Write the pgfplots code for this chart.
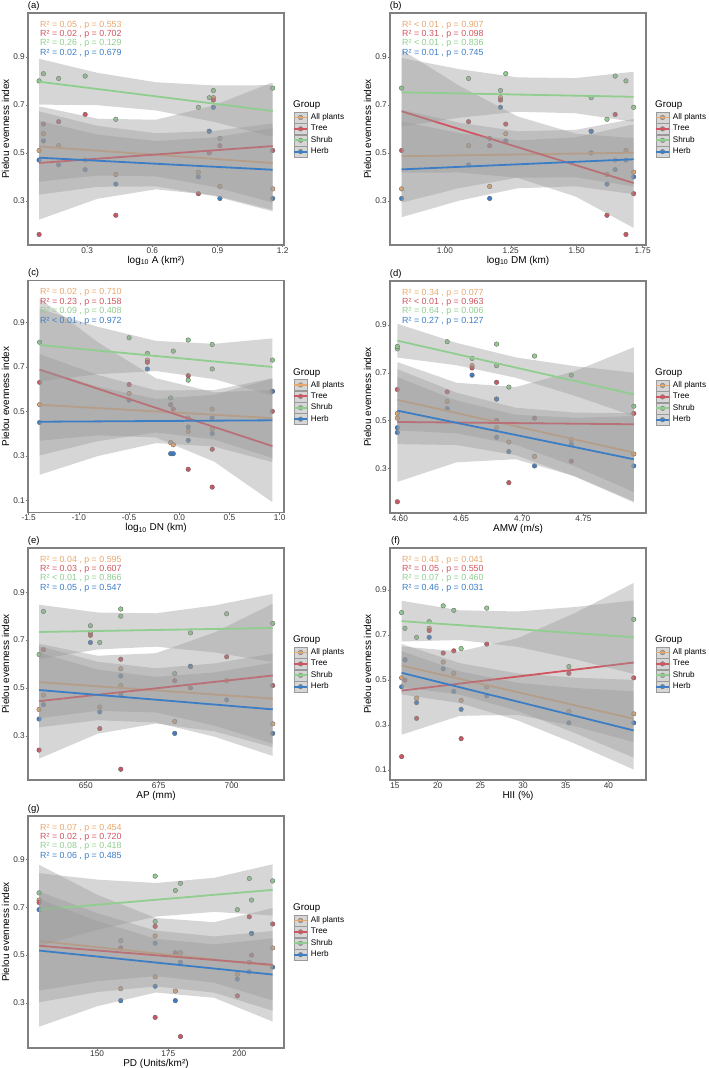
\documentclass[border=0pt]{standalone}
\usepackage{fontspec}
\setmainfont{Liberation Sans}
\usepackage{pgfplots}
\usepackage{pgfplotstable}
\pgfplotsset{compat=1.18}

\definecolor{cAll}{HTML}{E8A86E}
\definecolor{cTree}{HTML}{CF5660}
\definecolor{cShrub}{HTML}{8FCE8F}
\definecolor{cHerb}{HTML}{3C7EC6}
\definecolor{bandgray}{RGB}{153,153,153}

% ---------- points: one row per site (S1..S10) ----------
\pgfplotstableread{
x all tree shrub herb
0.079 0.51 0.16 0.80 0.47
0.099 0.58 0.62 0.83 0.55
0.169 0.53 0.63 0.81 0.45
0.291 0.47 0.66 0.82 0.43
0.432 0.41 0.24 0.64 0.37
0.812 0.42 0.33 0.69 0.40
0.862 0.59 0.50 0.73 0.59
0.881 0.73 0.72 0.76 0.69
0.911 0.36 0.53 0.56 0.31
1.154 0.35 0.51 0.77 0.31
}\ptA
\pgfplotstableread{
x all tree shrub herb
1.687 0.51 0.16 0.80 0.47
1.231 0.58 0.62 0.83 0.55
1.090 0.53 0.63 0.81 0.45
1.646 0.47 0.66 0.82 0.43
1.615 0.41 0.24 0.64 0.37
1.716 0.42 0.33 0.69 0.40
1.555 0.59 0.50 0.73 0.59
1.211 0.73 0.72 0.76 0.69
1.170 0.36 0.53 0.56 0.31
0.836 0.35 0.51 0.77 0.31
}\ptB
\pgfplotstableread{
x all tree shrub herb
0.328 0.51 0.16 0.80 0.47
-0.500 0.58 0.62 0.83 0.55
-1.391 0.53 0.63 0.81 0.45
0.089 0.47 0.66 0.82 0.43
0.089 0.41 0.24 0.64 0.37
0.328 0.42 0.33 0.69 0.40
0.927 0.59 0.50 0.73 0.59
-0.318 0.73 0.72 0.76 0.69
-0.086 0.36 0.53 0.56 0.31
-0.060 0.35 0.51 0.77 0.31
}\ptC
\pgfplotstableread{
x all tree shrub herb
4.598 0.51 0.16 0.80 0.47
4.6387 0.58 0.62 0.83 0.55
4.598 0.53 0.63 0.81 0.45
4.679 0.47 0.66 0.82 0.43
4.689 0.41 0.24 0.64 0.37
4.740 0.42 0.33 0.69 0.40
4.679 0.59 0.50 0.73 0.59
4.659 0.73 0.72 0.76 0.69
4.791 0.36 0.53 0.56 0.31
4.710 0.35 0.51 0.77 0.31
}\ptD
\pgfplotstableread{
x all tree shrub herb
662.0 0.51 0.16 0.80 0.47
662.0 0.58 0.62 0.83 0.55
698.3 0.53 0.63 0.81 0.45
635.5 0.47 0.66 0.82 0.43
634.0 0.41 0.24 0.64 0.37
654.8 0.42 0.33 0.69 0.40
685.9 0.59 0.50 0.73 0.59
651.6 0.73 0.72 0.76 0.69
680.5 0.36 0.53 0.56 0.31
714.1 0.35 0.51 0.77 0.31
}\ptE
\pgfplotstableread{
x all tree shrub herb
15.78 0.51 0.16 0.80 0.47
20.65 0.58 0.62 0.83 0.55
21.89 0.53 0.63 0.81 0.45
25.75 0.47 0.66 0.82 0.43
22.75 0.41 0.24 0.64 0.37
17.53 0.42 0.33 0.69 0.40
16.17 0.59 0.50 0.73 0.59
19.01 0.73 0.72 0.76 0.69
35.37 0.36 0.53 0.56 0.31
42.96 0.35 0.51 0.77 0.31
}\ptF
\pgfplotstableread{
x all tree shrub herb
179.3 0.51 0.16 0.80 0.47
170.4 0.58 0.62 0.83 0.55
211.7 0.53 0.63 0.81 0.45
203.5 0.47 0.66 0.82 0.43
170.4 0.41 0.24 0.64 0.37
199.3 0.42 0.33 0.69 0.40
204.3 0.59 0.50 0.73 0.59
129.6 0.73 0.72 0.76 0.69
158.3 0.36 0.53 0.56 0.31
177.5 0.35 0.51 0.77 0.31
}\ptG

% ---------- fitted lines (one column per group) ----------
\pgfplotstableread{
bx a t s h
0.079 .5264 .4580 .7967 .4799
1.154 .4576 .5283 .6745 .4296
}\lnA
\pgfplotstableread{
bx a t s h
0.836 .4859 .6734 .7525 .4312
1.716 .5007 .3743 .7337 .4733
}\lnB
\pgfplotstableread{
bx a t s h
-1.391 .5296 .6871 .7975 .4533
0.927 .4694 .3440 .6991 .4597
}\lnC
\pgfplotstableread{
bx a t s h
4.598 .5869 .4940 .8344 .5416
4.791 .3657 .4844 .6095 .3379
}\lnD
\pgfplotstableread{
bx a t s h
634.0 .5241 .4447 .7339 .4912
714.1 .4552 .5519 .7507 .4103
}\lnE
\pgfplotstableread{
bx a t s h
15.78 .5647 .4532 .7620 .5324
42.96 .3280 .5781 .6906 .2763
}\lnF
\pgfplotstableread{
bx a t s h
129.6 .5588 .5392 .6898 .5190
211.7 .4558 .4597 .7725 .4189
}\lnG

% ---------- 95% confidence bands: upper edge left->right, lower edge right->left ----------
\pgfplotstableread{
px a t s h
0.079 .6729 .6941 .8922 .6339
0.348 .6126 .6423 .8336 .5761
0.617 .5819 .6381 .7943 .5494
0.885 .5913 .6985 .7811 .5647
1.154 .6225 .7941 .7821 .6030
1.154 .2927 .2625 .5669 .2562
0.885 .3583 .3229 .6291 .3197
0.617 .4019 .3481 .6769 .3602
0.348 .4056 .3087 .6986 .3585
0.079 .3799 .2219 .7012 .3259
}\bdA
\pgfplotstableread{
px a t s h
0.836 .6791 .9295 .8956 .6306
1.056 .6257 .7791 .8486 .5821
1.276 .5899 .6519 .8147 .5519
1.496 .5959 .5802 .8117 .5649
1.716 .6416 .5612 .8381 .6188
1.716 .3598 .1874 .6293 .3278
1.496 .3981 .3180 .6651 .3607
1.276 .3967 .3959 .6715 .3525
1.056 .3535 .4183 .6470 .3013
0.836 .2927 .4173 .6094 .2318
}\bdB
\pgfplotstableread{
px a t s h
-1.391 .7568 1.0065 .9602 .6914
-0.8115 .6630 .8101 .8792 .6105
-0.232 .5940 .6484 .8160 .5556
0.3475 .5951 .5854 .8030 .5741
0.927 .6484 .5956 .8272 .6472
0.927 .2904 .0924 .5710 .2722
0.3475 .3737 .2742 .6444 .3421
-0.232 .4050 .3826 .6806 .3574
-0.8115 .3660 .3925 .6666 .2993
-1.391 .3024 .3677 .6348 .2152
}\bdC
\pgfplotstableread{
px a t s h
4.598 .7152 .7447 .9051 .6820
4.64625 .6168 .6581 .8251 .5839
4.6945 .5536 .6403 .7646 .5244
4.74275 .5333 .7063 .7277 .5117
4.791 .5306 .8066 .7003 .5183
4.791 .2008 .1622 .5187 .1575
4.74275 .3087 .2673 .6039 .2659
4.6945 .3990 .3381 .6794 .3552
4.64625 .4464 .3251 .7313 .3975
4.598 .4586 .2433 .7637 .4012
}\bdD
\pgfplotstableread{
px a t s h
634.0 .6752 .6850 .8480 .6473
654.025 .6095 .6346 .8155 .5770
674.05 .5821 .6453 .8121 .5463
694.075 .6025 .7318 .8446 .5648
714.1 .6438 .8519 .8931 .6052
714.1 .2666 .2519 .6083 .2154
694.075 .3425 .3184 .6484 .2962
674.05 .3973 .3513 .6725 .3553
654.025 .4043 .3084 .6607 .3650
634.0 .3730 .2044 .6198 .3351
}\bdE
\pgfplotstableread{
px a t s h
15.78 .6604 .6492 .8525 .6287
22.575 .5756 .6277 .8103 .5388
29.37 .5296 .6860 .8049 .4881
36.165 .5107 .7996 .8252 .4646
42.96 .5008 .9318 .8539 .4501
42.96 .1552 .2244 .5273 .1025
36.165 .2637 .2942 .5918 .2162
29.37 .3632 .3454 .6477 .3207
22.575 .4356 .3411 .6781 .3980
15.78 .4690 .2572 .6715 .4361
}\bdF
\pgfplotstableread{
px a t s h
129.6 .7656 .8774 .8424 .7348
150.125 .6751 .7517 .8153 .6423
170.65 .6024 .6551 .8013 .5682
191.175 .5781 .6375 .8230 .5447
211.7 .6008 .6967 .8794 .5702
211.7 .3108 .2227 .6656 .2676
191.175 .3849 .3217 .6806 .3431
170.65 .4122 .3439 .6609 .3696
150.125 .3909 .2869 .6057 .3457
129.6 .3520 .2010 .5372 .3032
}\bdG

\newcommand{\annfont}{\fontsize{8.9}{9}\selectfont}

\newcommand{\drawpoints}[1]{%
  \addplot[only marks, mark=*, mark size=2.3bp, mark options={draw=black!60, line width=0.4bp, fill=cAll}, forget plot] table[x=x, y=all] {#1};
  \addplot[only marks, mark=*, mark size=2.3bp, mark options={draw=black!60, line width=0.4bp, fill=cTree}, forget plot] table[x=x, y=tree] {#1};
  \addplot[only marks, mark=*, mark size=2.3bp, mark options={draw=black!60, line width=0.4bp, fill=cShrub}, forget plot] table[x=x, y=shrub] {#1};
  \addplot[only marks, mark=*, mark size=2.3bp, mark options={draw=black!60, line width=0.4bp, fill=cHerb}, forget plot] table[x=x, y=herb] {#1};
}
\newcommand{\drawgroup}[4]{%
  \addplot[fill=bandgray, fill opacity=0.4, draw=none, forget plot] table[x=px, y=#3] {#1};
  \addplot[#4, line width=1.8bp, forget plot] table[x=bx, y=#3] {#2};
}
\newcommand{\drawall}[3]{%
  \drawpoints{#1}%
  \drawgroup{#2}{#3}{a}{cAll}%
  \drawgroup{#2}{#3}{t}{cTree}%
  \drawgroup{#2}{#3}{s}{cShrub}%
  \drawgroup{#2}{#3}{h}{cHerb}%
}
\newcommand{\keyimg}[1]{%
  \fill[#1, draw=black!60, line width=0.4bp] (6.5bp,0bp) circle (2.3bp);
  \fill[bandgray, fill opacity=0.4] (0bp,-5.5bp) rectangle (13bp,5.5bp);
  \draw[#1, line width=1.8bp] (0bp,0bp) -- (13bp,0bp);}
\newcommand{\grouplegend}{%
  \addlegendimage{legend image code/.code={\keyimg{cAll}}}\addlegendentry{All plants}
  \addlegendimage{legend image code/.code={\keyimg{cTree}}}\addlegendentry{Tree}
  \addlegendimage{legend image code/.code={\keyimg{cShrub}}}\addlegendentry{Shrub}
  \addlegendimage{legend image code/.code={\keyimg{cHerb}}}\addlegendentry{Herb}
  \node[anchor=west, inner sep=0pt, font=\fontsize{9.8}{10}\selectfont] at (axis description cs:1.035,0.603) {Group};
}
\newcommand{\annot}[4]{%
  \node[anchor=west, inner sep=0pt, text=cAll, font=\annfont] at (axis description cs:0.047,0.948) {#1};
  \node[anchor=west, inner sep=0pt, text=cTree, font=\annfont] at (axis description cs:0.047,0.908) {#2};
  \node[anchor=west, inner sep=0pt, text=cShrub, font=\annfont] at (axis description cs:0.047,0.868) {#3};
  \node[anchor=west, inner sep=0pt, text=cHerb, font=\annfont] at (axis description cs:0.047,0.826) {#4};
}
\newcommand{\plabel}[1]{\node[anchor=center, inner sep=0pt, font=\fontsize{9.5}{10}\selectfont] at (axis description cs:0.022,1.03) {#1};}

\pgfplotsset{
  panel/.style={
    scale only axis, width=256bp, height=232bp, anchor=north west, clip=false,
    clip marker paths=true,
    axis line style={draw=black!50, line width=1.1bp},
    tick style={draw=black!55, line width=0.5bp},
    tick align=outside, major tick length=2bp,
    xtick pos=bottom, ytick pos=left, scaled ticks=false,
    /pgf/number format/assume math mode=true,
    tick label style={font=\fontsize{8.3}{9}\selectfont, text=black!80, inner sep=1bp},
    xticklabel style={inner sep=0.3bp},
    ylabel={Pielou evenness index},
    ylabel style={font=\fontsize{10}{11}\selectfont, at={(axis description cs:-0.088,0.5)}, anchor=center},
    xlabel style={font=\fontsize{10}{11}\selectfont, at={(axis description cs:0.5,-0.067)}, anchor=center},
    ytick={0.3,0.5,0.7,0.9}, yticklabels={0.3,0.5,0.7,0.9},
    legend style={at={(axis description cs:1.035,0.476)}, anchor=west, draw=none, fill=none,
      inner sep=0pt, row sep=0pt, column sep=3bp, font=\fontsize{8.2}{9}\selectfont,
      nodes={inner sep=0pt}},
    legend cell align=left,
  },
  ytenth/.style={ytick={0.1,0.3,0.5,0.7,0.9}, yticklabels={0.1,0.3,0.5,0.7,0.9}},
}

\begin{document}
\begin{tikzpicture}
\path[use as bounding box] (0bp,0bp) rectangle (709bp,-1068bp);

% (a)
\begin{axis}[panel, at={(28bp,-13bp)}, xmin=0.028, xmax=1.206, ymin=0.116, ymax=1.083,
  xtick={0.3,0.6,0.9,1.2}, xticklabels={0.3,0.6,0.9,1.2},
  xlabel={log\textsubscript{10} A (km²)}]
\drawall{\ptA}{\bdA}{\lnA}
\grouplegend
\annot{R² = 0.05 , p = 0.553}{R² = 0.02 , p = 0.702}{R² = 0.26 , p = 0.129}{R² = 0.02 , p = 0.679}
\plabel{(a)}
\end{axis}

% (b)
\begin{axis}[panel, at={(390bp,-13bp)}, xmin=0.792, xmax=1.763, ymin=0.116, ymax=1.083,
  xtick={1.00,1.25,1.50,1.75}, xticklabels={1.00,1.25,1.50,1.75},
  xlabel={log\textsubscript{10} DM (km)}]
\drawall{\ptB}{\bdB}{\lnB}
\grouplegend
\annot{R² < 0.01 , p = 0.907}{R² = 0.31 , p = 0.098}{R² < 0.01 , p = 0.836}{R² = 0.01 , p = 0.745}
\plabel{(b)}
\end{axis}

% (c)
\begin{axis}[panel, ytenth, at={(28bp,-280.5bp)}, xmin=-1.507, xmax=1.043, ymin=0.046, ymax=1.087,
  xtick={-1.5,-1.0,-0.5,0.0,0.5,1.0}, xticklabels={-1.5,-1.0,-0.5,0.0,0.5,1.0},
  xlabel={log\textsubscript{10} DN (km)}]
\drawall{\ptC}{\bdC}{\lnC}
\grouplegend
\annot{R² = 0.02 , p = 0.710}{R² = 0.23 , p = 0.158}{R² = 0.09 , p = 0.408}{R² < 0.01 , p = 0.972}
\plabel{(c)}
\end{axis}

% (d)
\begin{axis}[panel, at={(390bp,-281bp)}, xmin=4.592, xmax=4.801, ymin=0.113, ymax=1.084,
  xtick={4.60,4.65,4.70,4.75}, xticklabels={4.60,4.65,4.70,4.75},
  xlabel={AMW (m/s)}]
\drawall{\ptD}{\bdD}{\lnD}
\grouplegend
\annot{R² = 0.34 , p = 0.077}{R² < 0.01 , p = 0.963}{R² = 0.64 , p = 0.006}{R² = 0.27 , p = 0.127}
\plabel{(d)}
\end{axis}

% (e)
\begin{axis}[panel, at={(28bp,-548bp)}, xmin=630.2, xmax=717.96, ymin=0.115, ymax=1.085,
  xtick={650,675,700}, xticklabels={650,675,700},
  xlabel={AP (mm)}]
\drawall{\ptE}{\bdE}{\lnE}
\grouplegend
\annot{R² = 0.04 , p = 0.595}{R² = 0.03 , p = 0.607}{R² < 0.01 , p = 0.866}{R² = 0.05 , p = 0.547}
\plabel{(e)}
\end{axis}

% (f)
\begin{axis}[panel, ytenth, at={(390bp,-548bp)}, xmin=14.42, xmax=44.40, ymin=0.056, ymax=1.087,
  xtick={15,20,25,30,35,40}, xticklabels={15,20,25,30,35,40},
  xlabel={HII (\%)}]
\drawall{\ptF}{\bdF}{\lnF}
\grouplegend
\annot{R² = 0.43 , p = 0.041}{R² = 0.05 , p = 0.550}{R² = 0.07 , p = 0.460}{R² = 0.46 , p = 0.031}
\plabel{(f)}
\end{axis}

% (g)
\begin{axis}[panel, at={(28bp,-816bp)}, xmin=125.7, xmax=215.7, ymin=0.112, ymax=1.081,
  xtick={150,175,200}, xticklabels={150,175,200},
  xlabel={PD (Units/km²)}]
\drawall{\ptG}{\bdG}{\lnG}
\grouplegend
\annot{R² = 0.07 , p = 0.454}{R² = 0.02 , p = 0.720}{R² = 0.08 , p = 0.418}{R² = 0.06 , p = 0.485}
\plabel{(g)}
\end{axis}
\end{tikzpicture}
\end{document}
